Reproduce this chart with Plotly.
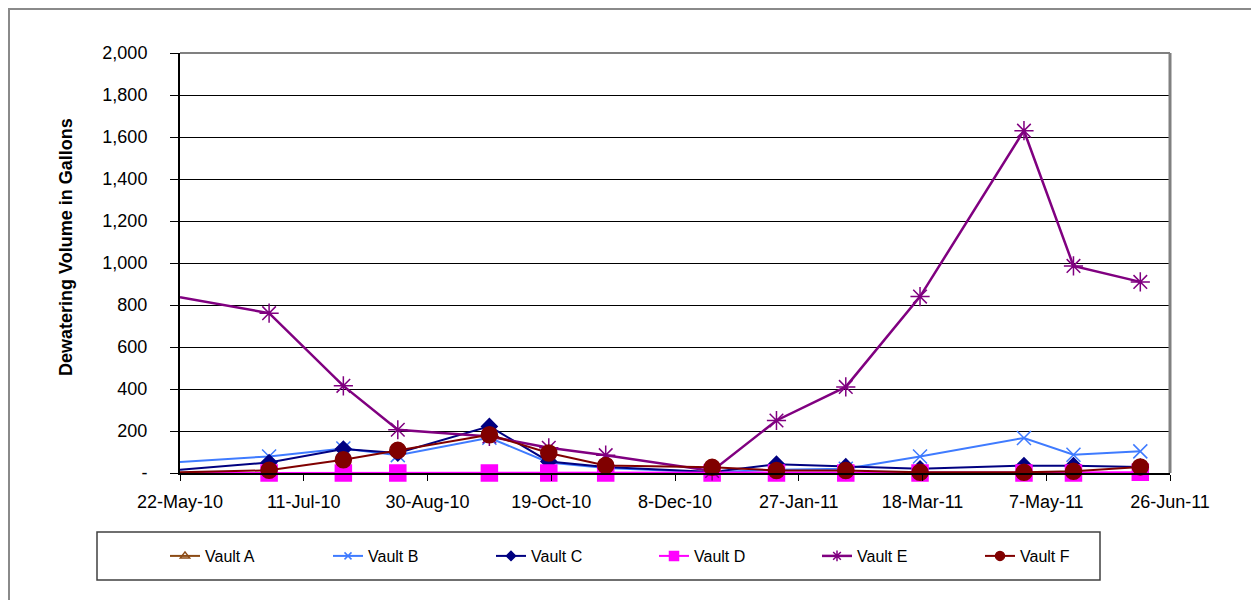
import plotly.graph_objects as go

# ---------------- data ----------------
DATES = ["2010-05-22", "2010-06-27", "2010-07-27", "2010-08-18", "2010-09-24",
         "2010-10-18", "2010-11-10", "2010-12-23", "2011-01-18", "2011-02-15",
         "2011-03-17", "2011-04-28", "2011-05-18", "2011-06-14"]
VAULT_A = [0, 0, 0, 0, 0, 0, 0, 0, 0, 0, 0, 0, 0, 0]
VAULT_B = [52, 79, 117, 85, 168, 50, 24, 3, 16, 20, 79, 167, 87, 103]
VAULT_C = [16, 50, 114, 95, 222, 55, 28, 5, 42, 30, 20, 35, 35, 28]
VAULT_D = [0, 0, 0, 0, 0, 0, 0, 0, 0, 0, 0, 0, 0, 3]
VAULT_E = [837, 761, 415, 206, 174, 120, 85, 10, 250, 410, 840, 1630, 986, 910]
VAULT_F = [3, 13, 63, 108, 182, 95, 36, 27, 12, 12, 3, 3, 8, 29]

X_TICK_DATES = ["2010-05-22", "2010-07-11", "2010-08-30", "2010-10-19", "2010-12-08",
                "2011-01-27", "2011-03-18", "2011-05-07", "2011-06-26"]
X_TICK_LABELS = ["22-May-10", "11-Jul-10", "30-Aug-10", "19-Oct-10", "8-Dec-10",
                 "27-Jan-11", "18-Mar-11", "7-May-11", "26-Jun-11"]
Y_TICKS = [0, 200, 400, 600, 800, 1000, 1200, 1400, 1600, 1800, 2000]
Y_TICK_LABELS = ["-", "200", "400", "600", "800", "1,000", "1,200", "1,400",
                 "1,600", "1,800", "2,000"]

SERIES_NAMES = ["Vault A", "Vault B", "Vault C", "Vault D", "Vault E", "Vault F"]
SERIES_VALUES = [VAULT_A, VAULT_B, VAULT_C, VAULT_D, VAULT_E, VAULT_F]

# ---------------- styling ----------------
PAGE_OFF = 8                      # default body margin of the page
W, H = 1259 - PAGE_OFF, 600 - PAGE_OFF
L, T = 180 - PAGE_OFF, 53 - PAGE_OFF
R = W - (1170 - PAGE_OFF)
B = H - (473 - PAGE_OFF)
PW, PH = W - L - R, H - T - B
FONT = "Arial, Liberation Sans, sans-serif"


def px_x(x):
    """page pixel x -> paper coordinate"""
    return (x - PAGE_OFF - L) / PW


def px_y(y):
    """page pixel y -> paper coordinate"""
    return (H - B - (y - PAGE_OFF)) / PH


STYLES = {
    "Vault A": dict(color="#8B4A14", symbol="triangle-up-open", size=9, lsize=8, width=2),
    "Vault B": dict(color="#3F7BFF", symbol="x-thin-open", size=14, lsize=7, width=2),
    "Vault C": dict(color="#000080", symbol="diamond", size=12, lsize=7, width=2),
    "Vault D": dict(color="#FF00FF", symbol="square", size=16, lsize=9, width=2),
    "Vault E": dict(color="#800080", symbol="asterisk-open", size=16, lsize=9, width=2.5),
    "Vault F": dict(color="#800000", symbol="circle", size=16, lsize=9, width=2),
}

fig = go.Figure()
n = len(DATES)
for name, vals in zip(SERIES_NAMES, SERIES_VALUES):
    st = STYLES[name]
    sizes = [0] + [st["size"]] * (n - 1)  # first point sits on the axis edge, no marker shown
    fig.add_trace(go.Scatter(
        x=DATES, y=vals, name=name, mode="lines+markers", showlegend=False,
        cliponaxis=False,
        line=dict(color=st["color"], width=st["width"]),
        marker=dict(symbol=st["symbol"], size=sizes, color=st["color"], opacity=1,
                    line=dict(color=st["color"], width=1.5)),
    ))

# legend-only entries with small markers
for i, name in enumerate(SERIES_NAMES):
    st = STYLES[name]
    fig.add_trace(go.Scatter(
        x=[None], y=[None], name=name, mode="lines+markers",
        line=dict(color=st["color"], width=st["width"]),
        marker=dict(symbol=st["symbol"], size=st["lsize"], color=st["color"], opacity=1,
                    line=dict(color=st["color"], width=1.5)),
        legendwidth=60 if i == len(SERIES_NAMES) - 1 else 118,
    ))

fig.update_layout(
    width=W, height=H,
    margin=dict(l=L, r=R, t=T, b=B, autoexpand=False),
    paper_bgcolor="white", plot_bgcolor="white",
    font=dict(family=FONT, color="black", size=18),
    xaxis=dict(
        type="date", range=["2010-05-22", "2011-06-26"],
        tickvals=X_TICK_DATES, ticktext=X_TICK_LABELS,
        ticks="outside", ticklen=6, tickcolor="black", tickwidth=1,
        showgrid=False, zeroline=False,
        showline=True, linecolor="black", linewidth=2,
        tickfont=dict(family=FONT, size=18, color="black"),
        ticklabelstandoff=5,
    ),
    yaxis=dict(
        range=[0, 2000], tickvals=Y_TICKS, ticktext=Y_TICK_LABELS,
        ticks="outside", ticklen=8, tickcolor="black", tickwidth=1,
        showgrid=True, gridcolor="black", gridwidth=1,
        zeroline=False, showline=True, linecolor="black", linewidth=2,
        tickfont=dict(family=FONT, size=18, color="black"),
        ticklabelstandoff=19,
    ),
    legend=dict(
        orientation="h", x=px_x(165), xanchor="left", y=px_y(556), yanchor="middle",
        bgcolor="rgba(0,0,0,0)", borderwidth=0,
        font=dict(family=FONT, size=16, color="black"),
        entrywidthmode="pixels", itemclick=False,
    ),
    shapes=[
        # outer chart border
        dict(type="rect", xref="paper", yref="paper",
             x0=px_x(9), x1=px_x(1275), y0=px_y(615), y1=px_y(9),
             line=dict(color="#8a8a8a", width=2), fillcolor="rgba(0,0,0,0)", layer="below"),
        # plot area top and right borders
        dict(type="line", xref="paper", yref="paper", x0=0, x1=1, y0=1, y1=1,
             line=dict(color="#808080", width=2)),
        dict(type="line", xref="paper", yref="paper", x0=1, x1=1, y0=0, y1=1,
             line=dict(color="#808080", width=3)),
        # legend box
        dict(type="rect", xref="paper", yref="paper",
             x0=px_x(97), x1=px_x(1100), y0=px_y(580), y1=px_y(532),
             line=dict(color="#404040", width=1.5), fillcolor="rgba(0,0,0,0)"),
    ],
    annotations=[
        dict(text="<b>Dewatering Volume in Gallons</b>", textangle=-90,
             xref="paper", yref="paper", x=px_x(66), y=px_y(247), xanchor="center",
             yanchor="middle", showarrow=False,
             font=dict(family=FONT, size=18, color="black")),
    ],
)

fig.write_html("out.html")
